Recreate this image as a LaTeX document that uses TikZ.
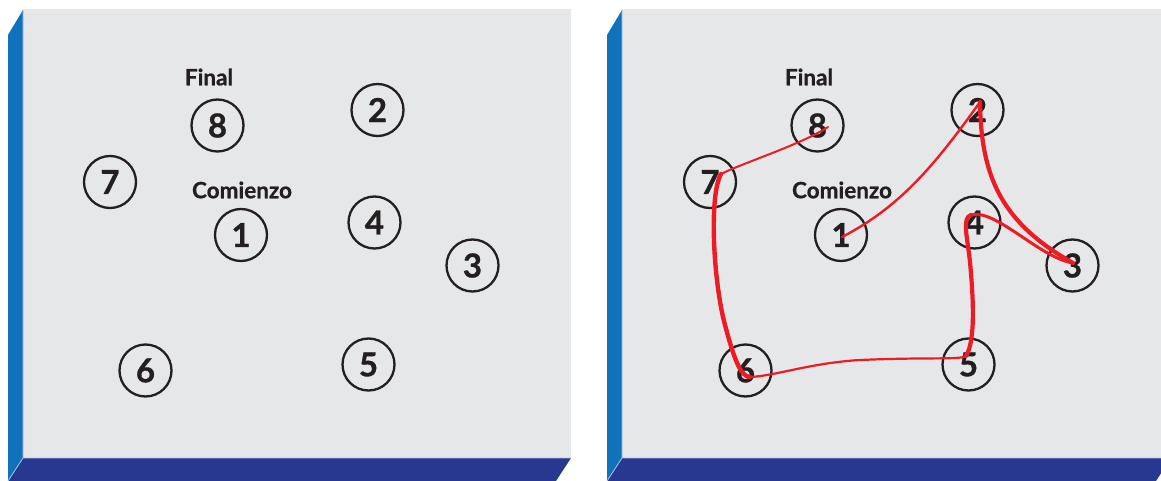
\documentclass[tikz,border=0pt]{standalone}
\usepackage{fontspec}
\setmainfont{Lato}[BoldFeatures={FakeBold=0.9}]
\usetikzlibrary{calc}
\definecolor{face}{HTML}{E6E7E8}
\definecolor{sideblue}{HTML}{1172BC}
\definecolor{basenavy}{HTML}{283891}
\definecolor{seam}{HTML}{A9C3E0}
\definecolor{ink}{HTML}{231F20}
\definecolor{pen}{HTML}{ED1C24}

\begin{document}
\begin{tikzpicture}[
  x=1pt, y=-1pt,
  spot/.style={circle, draw=ink, line width=2.3pt, minimum size=52pt, inner sep=0pt,
    font=\fontsize{33}{33}\selectfont\bfseries, text=ink},
  tag/.style={font=\fontsize{22.5}{22.5}\selectfont\bfseries, text=ink, inner sep=0pt},
  trace/.style={draw=pen, line cap=round, line join=round}
]
\useasboundingbox (0,0) rectangle (1161,481);

% Left board
\fill[face] (23,9) rectangle (571,458);
\fill[sideblue] (8,35) -- (23,10) -- (23,458) -- (8,481) -- cycle;
\fill[basenavy] (23,458) -- (571,458) -- (556,481) -- (8,481) -- cycle;
\draw[seam, line width=0.8pt] (8,481) -- (23,458) -- (23,10) (23,458) -- (571,458);

% Right board
\fill[face] (622,9) rectangle (1171,458);
\fill[sideblue] (607,35) -- (622,10) -- (622,458) -- (607,481) -- cycle;
\fill[basenavy] (622,458) -- (1171,458) -- (1156,481) -- (607,481) -- cycle;
\draw[seam, line width=0.8pt] (607,481) -- (622,458) -- (622,10) (622,458) -- (1161,458);

% Nodes, left board
\node[tag] (fin-a) at (209,77) {Final};
\node[tag] (start-a) at (242,190) {Comienzo};
\node[spot] (a1) at (241,235) {1};
\node[spot] (a2) at (377.5,110) {2};
\node[spot] (a3) at (472.5,265.5) {3};
\node[spot] (a4) at (374.5,222.5) {4};
\node[spot] (a5) at (368.5,364.5) {5};
\node[spot] (a6) at (145.5,370.5) {6};
\node[spot] (a7) at (110,182) {7};
\node[spot] (a8) at (217.5,125.5) {8};

% Nodes, right board
\node[tag] (fin-b) at (809,77) {Final};
\node[tag] (start-b) at (842,190) {Comienzo};
\node[spot] (b1) at (841,235) {1};
\node[spot] (b2) at (977.5,110) {2};
\node[spot] (b3) at (1072.5,265.5) {3};
\node[spot] (b4) at (974.5,222.5) {4};
\node[spot] (b5) at (968.5,364.5) {5};
\node[spot] (b6) at (745.5,370.5) {6};
\node[spot] (b7) at (710,182) {7};
\node[spot] (b8) at (817.5,125.5) {8};

% where the pen turns at each spot
\coordinate (t1) at ($(b1)+(1,2)$);
\coordinate (t2) at ($(b2)+(2.5,-8)$);
\coordinate (t3) at ($(b3)+(0.5,-2.5)$);
\coordinate (t4) at ($(b4)+(-3.5,-7.5)$);
\coordinate (t5) at ($(b5)+(-2.5,-8.5)$);
\coordinate (t6) at ($(b6)+(4.5,6.5)$);
\coordinate (t7) at ($(b7)+(11,-8)$);
\coordinate (t8) at ($(b8)+(10.5,1.5)$);

% Connections
\draw[trace, line width=2.4pt] (t1) .. controls (900,207) and (935,165) .. (t2);
\draw[trace, line width=4.2pt] (t2) .. controls (981,175) and (1000,222) .. (t3);
\draw[trace, line width=3pt] (t3) .. controls (1040,258) and (995,208) .. (t4);
\draw[trace, line width=4.2pt] (t4) .. controls (962,218) and (967,235) .. (970,262)
  .. controls (973,295) and (976,340) .. (t5);
\draw[trace, line width=2.2pt] (t5) .. controls (960,360) and (930,357) .. (860,360)
  .. controls (810,363) and (775,376) .. (t6);
\draw[trace, line width=4.4pt] (t6) .. controls (740,377) and (733,355) .. (725,325)
  .. controls (713,280) and (709,195) .. (t7);
\draw[trace, line width=2pt] (t7) .. controls (745,162) and (800,145) .. (t8);

\end{tikzpicture}
\end{document}
